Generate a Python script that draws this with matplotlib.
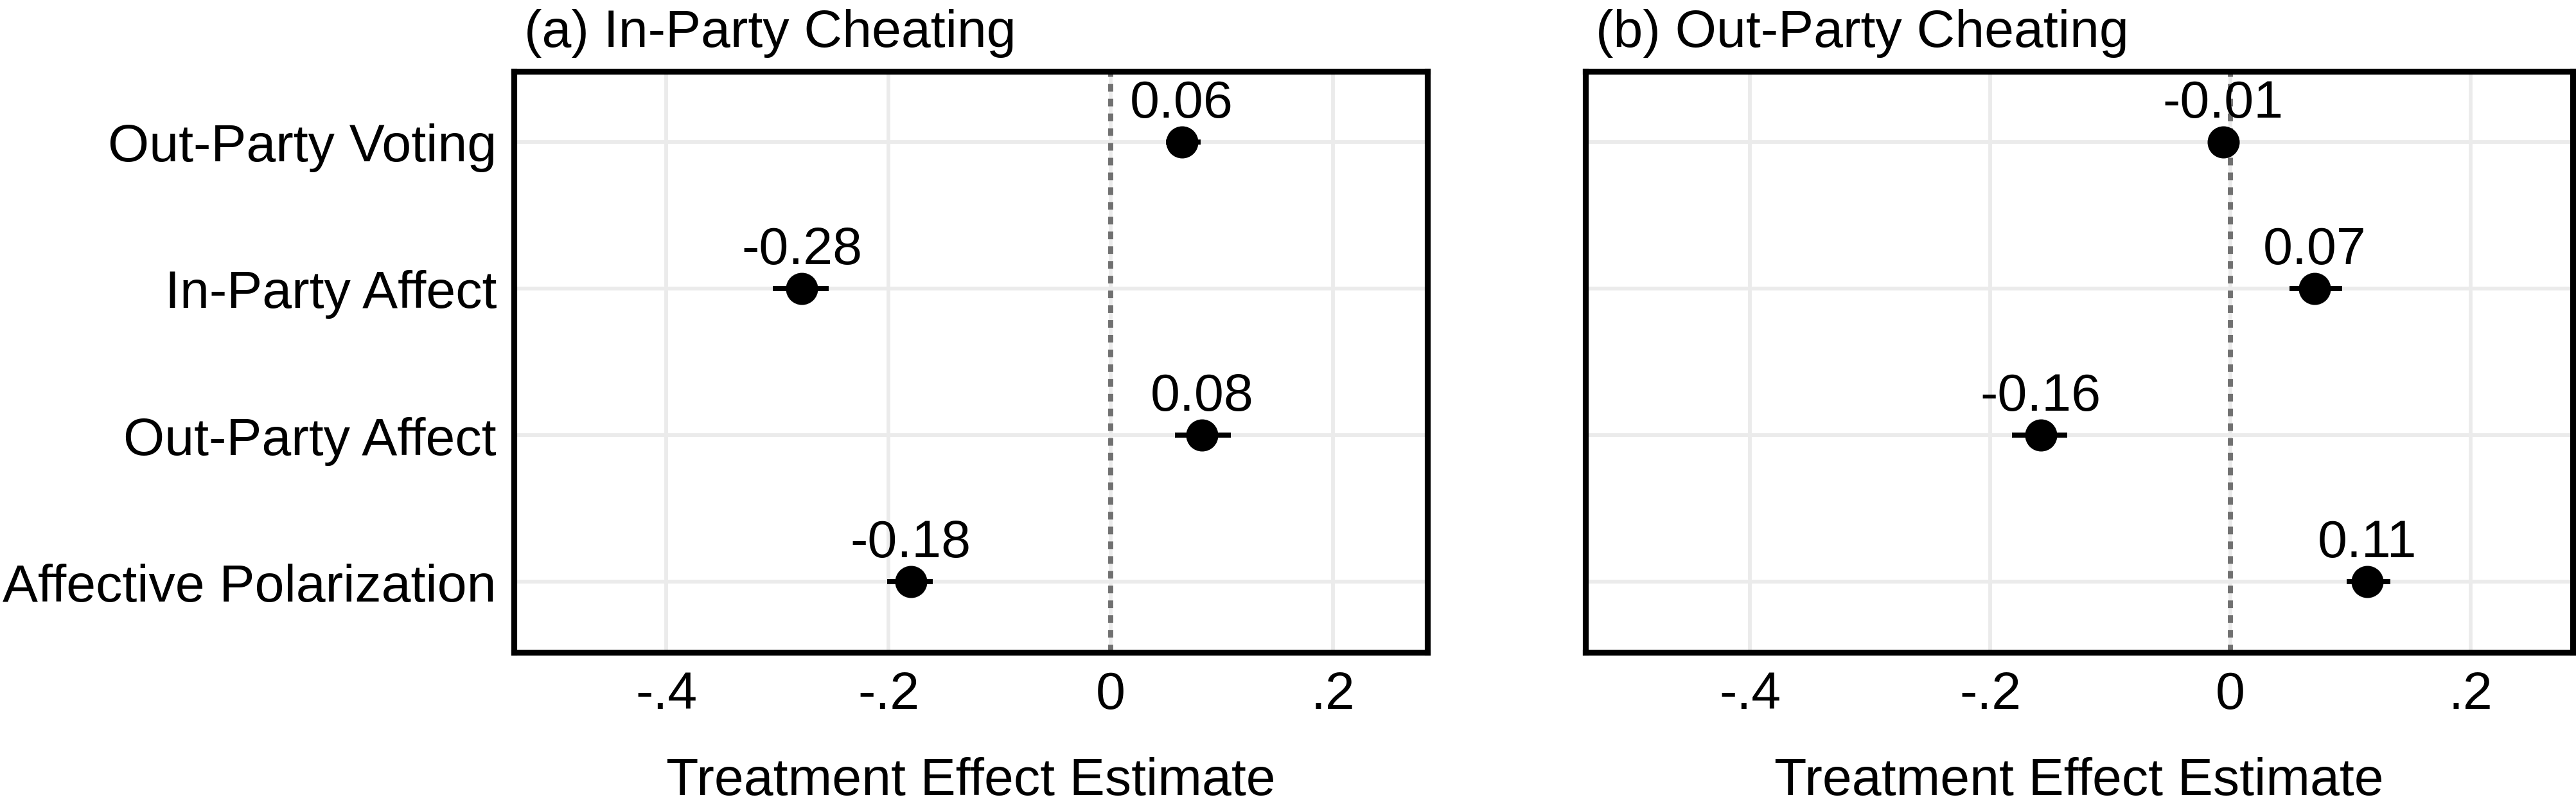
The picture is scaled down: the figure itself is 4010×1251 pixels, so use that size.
import matplotlib.pyplot as plt

plt.rcParams['font.family'] = ['Liberation Sans', 'DejaVu Sans']

outcomes = ['Out-Party Voting', 'In-Party Affect', 'Out-Party Affect', 'Affective Polarization']
panel_titles = ['(a) In-Party Cheating', '(b) Out-Party Cheating']

# in-party cheating treatment
in_est = [0.064, -0.278, 0.082, -0.180]
in_lo = [0.050, -0.304, 0.058, -0.201]
in_hi = [0.081, -0.254, 0.108, -0.160]

# out-party cheating treatment
out_est = [-0.006, 0.070, -0.158, 0.114]
out_lo = [-0.014, 0.049, -0.182, 0.097]
out_hi = [0.003, 0.093, -0.136, 0.133]

xticks = [-0.4, -0.2, 0, 0.2]
xticklabels = ['-.4', '-.2', '0', '.2']

FS = 19.8
W, H = 4011, 1252
fig = plt.figure(figsize=(W / 300, H / 300), dpi=300)

boxes = [(800, 1422), (2468, 1537)]
top, bottom = 112, 1016
panels = [(in_est, in_lo, in_hi), (out_est, out_lo, out_hi)]

for i, ((left, width), (est, lo, hi)) in enumerate(zip(boxes, panels)):
    ax = fig.add_axes([left / W, (H - bottom) / H, width / W, (bottom - top) / H])
    y = list(range(1, len(outcomes) + 1))

    ax.set_axisbelow(True)
    ax.grid(True, color='#EBEBEB', lw=1.4)
    ax.axvline(0, color='#707070', lw=1.9, linestyle=(0, (1.5, 1.4)), zorder=2)
    ax.hlines(y, lo, hi, color='black', lw=1.9, capstyle='butt', zorder=3)
    ax.plot(est, y, 'o', color='black', ms=11, zorder=4)
    for xv, yv in zip(est, y):
        ax.annotate(f'{xv:.2f}', (xv, yv), xytext=(0, 9.4), textcoords='offset points',
                    ha='center', va='baseline', fontsize=FS)

    ax.set_xlim(-0.537, 0.285)
    ax.set_ylim(4.482, 0.518)
    ax.set_xticks(xticks)
    ax.set_xticklabels(xticklabels, fontsize=FS)
    ax.set_yticks(y)
    if i == 0:
        ax.set_yticklabels(outcomes, fontsize=FS)
    else:
        ax.set_yticklabels([])
    ax.tick_params(length=0, pad=6.5)
    ax.tick_params(axis='x', pad=6.7)
    for s in ax.spines.values():
        s.set_linewidth(2.2)
        s.set_color('black')
        s.set_zorder(5)

    ax.set_xlabel('Treatment Effect Estimate', fontsize=FS, labelpad=14)
    ax.annotate(panel_titles[i], (0, 1), xycoords='axes fraction', xytext=(3.8, 9.4),
                textcoords='offset points', ha='left', va='baseline', fontsize=FS)

fig.savefig('out.png', dpi=300)
